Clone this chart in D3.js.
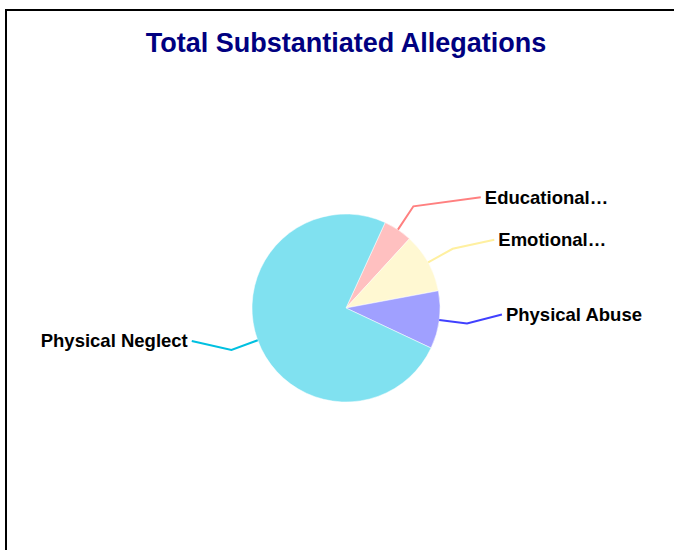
<!DOCTYPE html>
<html>
<head>
<meta charset="utf-8">
<script src="https://cdn.jsdelivr.net/npm/d3@7"></script>
<style>
  body { margin: 0; background: #fff; }
  svg { display: block; font-family: "Liberation Sans", Arial, sans-serif; }
</style>
</head>
<body>
<svg id="chart" width="674" height="550"></svg>
<script>
// data
const labels = ["Educational…", "Emotional…", "Physical Abuse", "Physical Neglect"];
const values = [15, 31, 30, 226];
const sliceColors = ["#ffc0c0", "#fff8d2", "#a0a0ff", "#80e1f0"];
const lineColors = ["#ff8080", "#fff0a0", "#4040ff", "#00c0e0"];
const title = "Total Substantiated Allegations";

const svg = d3.select("#chart"),
  cx = 346,
  cy = 308,
  radius = 94,
  kneeR = radius + 28,
  labelRx = 156,
  labelRy = 220;

// frame
svg
  .append("rect")
  .attr("x", 6)
  .attr("y", 10)
  .attr("width", 720)
  .attr("height", 600)
  .attr("fill", "#fff")
  .attr("stroke", "#000")
  .attr("stroke-width", 2);

svg
  .append("text")
  .attr("x", cx)
  .attr("y", 52)
  .attr("text-anchor", "middle")
  .attr("fill", "#000080")
  .style("font-size", "27px")
  .style("font-weight", "bold")
  .text(title);

const data = labels.map((name, i) => ({ name, value: values[i], i }));

const pie = d3
  .pie()
  .sort(null)
  .value((d) => d.value)
  .startAngle((24.6 * Math.PI) / 180)
  .endAngle((24.6 * Math.PI) / 180 + 2 * Math.PI);

const arcs = pie(data);
const arc = d3.arc().innerRadius(0).outerRadius(radius);

const g = svg.append("g").attr("transform", `translate(${cx},${cy})`);

g.selectAll("path.slice")
  .data(arcs)
  .join("path")
  .attr("class", "slice")
  .attr("d", arc)
  .attr("fill", (d) => sliceColors[d.data.i])
  .attr("stroke", "#fff")
  .attr("stroke-width", 0.5);

// label layout
const polar = (a, r) => [Math.sin(a) * r, -Math.cos(a) * r];
arcs.forEach((d) => {
  const mid = (d.startAngle + d.endAngle) / 2;
  const right = Math.sin(mid) > 0;
  d.edge = polar(mid, radius);
  d.knee = polar(mid, kneeR);
  const ey = d.knee[1] - 9;
  const ex = (right ? 1 : -1) * labelRx * Math.sqrt(Math.max(0, 1 - (ey / labelRy) ** 2));
  d.end = [ex, ey];
  d.right = right;
});

g.selectAll("path.connector")
  .data(arcs)
  .join("path")
  .attr("class", "connector")
  .attr("d", (d) => d3.line()([d.edge, d.knee, d.end]))
  .attr("fill", "none")
  .attr("stroke", (d) => lineColors[d.data.i])
  .attr("stroke-width", 2);

g.selectAll("text.label")
  .data(arcs)
  .join("text")
  .attr("class", "label")
  .attr("x", (d) => d.end[0] + (d.right ? 4 : -4))
  .attr("y", (d) => d.end[1])
  .attr("dy", "0.35em")
  .attr("text-anchor", (d) => (d.right ? "start" : "end"))
  .attr("fill", "#000")
  .style("font-size", "18.5px")
  .style("font-weight", "bold")
  .text((d) => d.data.name);
</script>
</body>
</html>
